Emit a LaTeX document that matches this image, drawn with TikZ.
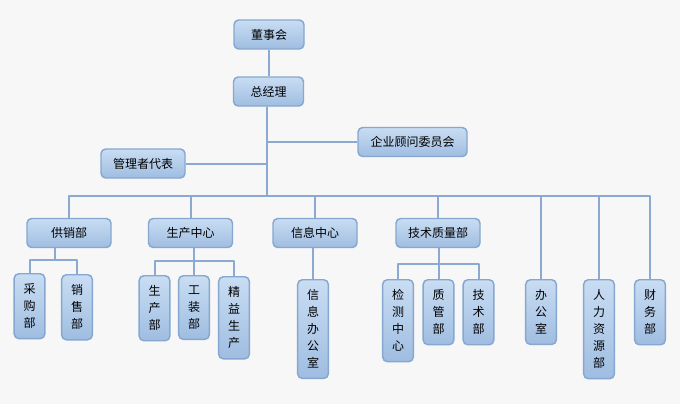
\documentclass[tikz,border=0pt]{standalone}
\usepackage{fontspec}
\newfontfamily\cjk{Noto Sans CJK SC}
\definecolor{boxtop}{HTML}{C9DDF3}
\definecolor{boxbot}{HTML}{9FBDE1}
\definecolor{boxline}{HTML}{86A7CF}
\definecolor{linkcol}{HTML}{8AAAD2}
\definecolor{paper}{HTML}{F7F7F7}
\begin{document}
\begin{tikzpicture}[x=0.75pt,y=-0.75pt,line join=round,font=\cjk\fontsize{9}{12.75}\selectfont,
	unit/.style={draw=boxline,line width=1.1pt,rounded corners=3.5pt,top color=boxtop,bottom color=boxbot,inner sep=0pt,align=center},
	hunit/.style={unit,minimum width=#1,minimum height=21.75pt},
	vunit/.style={unit,anchor=north,minimum width=23pt,inner ysep=7.5pt},
	wire/.style={draw=linkcol,line width=1.5pt}]
	\useasboundingbox[fill=paper] (0,0) rectangle (680,404);
	% top
	\node[hunit=52.5pt] (dsh) at (269,34.5) {董事会};
	\node[hunit=52.5pt] (zjl) at (268.5,91.5) {总经理};
	\node[hunit=81.75pt] (gw) at (412.5,142) {企业顾问委员会};
	\node[hunit=63pt] (dbr) at (143,163.5) {管理者代表};
	% centres
	\foreach \n/\x/\t in {gx/69/供销部,sc/190.5/生产中心,xx/315/信息中心,js/438/技术质量部}
		\node[hunit=63pt] (\n) at (\x,233) {\t};
	% departments
	\foreach \n/\x/\y/\t in {cg/29.5/273/采\\购\\部,xs/77/274/销\\售\\部,
		scb/154.5/275/生\\产\\部,gz/194/275/工\\装\\部,jy/234/276/精\\益\\生\\产,
		xxb/313/279/信\\息\\办\\公\\室,
		jc/398/279/检\\测\\中\\心,zg/438.5/279/质\\管\\部,jsb/478.5/279/技\\术\\部,
		bgs/541/279/办\\公\\室,rl/599/279/人\\力\\资\\源\\部,cw/650/279/财\\务\\部}
		\node[vunit] (\n) at (\x,\y) {\t};
	\path
	(267,195.5) coordinate (bus)
	(54.5,260) coordinate (gxs)
	(194,261) coordinate (scs)
	(438.5,263.5) coordinate (jss)
	;
	\draw[wire] (dsh.south) -- (dsh.south |- zjl.north);
	\draw[wire] (gw.west) -- (gw.west -| bus);
	\draw[wire] (dbr.east) -- (dbr.east -| bus);
	\foreach \n in {gx,sc,xx,js,bgs,rl,cw}
		\draw[wire] (zjl.south -| bus) -- (bus) -| (\n.north);
	\foreach \n in {cg,xs}\draw[wire] (gxs |- gx.south) -- (gxs) -| (\n.north);
	\foreach \n in {scb,gz,jy}\draw[wire] (scs |- sc.south) -- (scs) -| (\n.north);
	\foreach \n in {jc,zg,jsb}\draw[wire] (jss |- js.south) -- (jss) -| (\n.north);
	\draw[wire] (xx.south -| xxb.north) -- (xxb.north);
\end{tikzpicture}
\end{document}
